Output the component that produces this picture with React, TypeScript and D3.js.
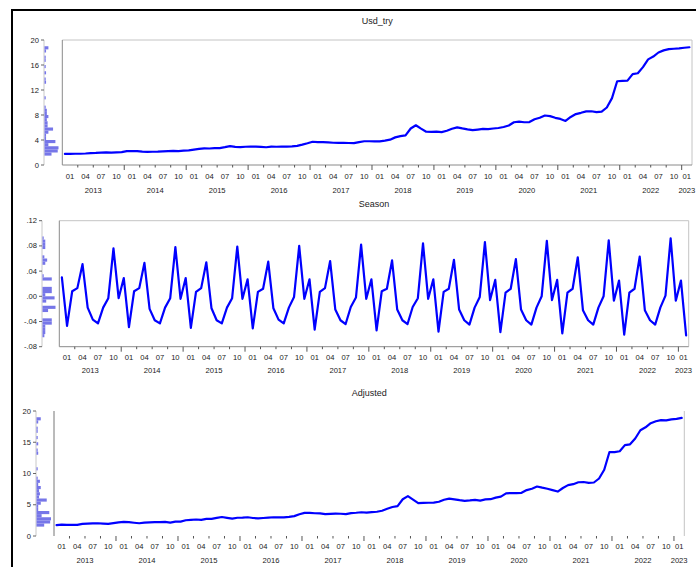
import React from 'react';
import * as d3 from 'd3';

// Monthly observations, Jan 2013 – Feb 2023
const YEARS = [2013, 2014, 2015, 2016, 2017, 2018, 2019, 2020, 2021, 2022, 2023];
const QUARTER_LABELS = ['01', '04', '07', '10'];

const USD_TRY = [
  1.77, 1.78, 1.80, 1.80, 1.84, 1.91, 1.93, 1.97, 2.02, 1.99, 2.02, 2.06,
  2.22, 2.21, 2.22, 2.13, 2.09, 2.12, 2.13, 2.17, 2.21, 2.25, 2.23, 2.30,
  2.33, 2.47, 2.59, 2.65, 2.64, 2.71, 2.70, 2.85, 3.02, 2.91, 2.86, 2.92,
  2.96, 2.95, 2.89, 2.84, 2.93, 2.92, 2.96, 2.94, 2.97, 3.06, 3.26, 3.48,
  3.72, 3.66, 3.65, 3.63, 3.56, 3.53, 3.55, 3.52, 3.49, 3.67, 3.80, 3.80,
  3.77, 3.77, 3.89, 4.05, 4.42, 4.62, 4.74, 5.84, 6.36, 5.82, 5.33, 5.30,
  5.35, 5.27, 5.49, 5.81, 6.03, 5.85, 5.69, 5.57, 5.67, 5.78, 5.75, 5.84,
  5.92, 6.08, 6.32, 6.84, 6.94, 6.84, 6.87, 7.31, 7.55, 7.92, 7.82, 7.55,
  7.37, 7.05, 7.69, 8.15, 8.35, 8.58, 8.60, 8.46, 8.54, 9.20, 10.70, 13.40,
  13.45, 13.50, 14.55, 14.68, 15.66, 16.90, 17.35, 18.00, 18.34, 18.55, 18.60, 18.66,
  18.76, 18.84,
];

const SEASON = [
  0.030, -0.047, 0.008, 0.013, 0.051, -0.018, -0.037, -0.043, -0.018, -0.003, 0.076, -0.003,
  0.029, -0.049, 0.008, 0.013, 0.053, -0.020, -0.038, -0.043, -0.018, -0.003, 0.078, -0.004,
  0.029, -0.050, 0.007, 0.013, 0.054, -0.019, -0.038, -0.043, -0.018, -0.003, 0.079, -0.004,
  0.027, -0.051, 0.007, 0.012, 0.055, -0.019, -0.037, -0.043, -0.018, -0.001, 0.080, -0.004,
  0.027, -0.053, 0.007, 0.013, 0.056, -0.021, -0.038, -0.044, -0.017, -0.002, 0.082, -0.004,
  0.027, -0.054, 0.008, 0.012, 0.057, -0.021, -0.038, -0.044, -0.017, -0.003, 0.084, -0.004,
  0.027, -0.056, 0.007, 0.012, 0.058, -0.021, -0.038, -0.045, -0.018, -0.001, 0.086, -0.006,
  0.026, -0.057, 0.006, 0.012, 0.059, -0.021, -0.038, -0.045, -0.018, 0.000, 0.088, -0.006,
  0.026, -0.059, 0.006, 0.012, 0.062, -0.022, -0.038, -0.045, -0.018, 0.000, 0.089, -0.007,
  0.025, -0.061, 0.006, 0.012, 0.063, -0.022, -0.038, -0.045, -0.018, 0.001, 0.092, -0.007,
  0.025, -0.062,
];

const ADJUSTED = [
  1.74, 1.83, 1.79, 1.79, 1.79, 1.93, 1.97, 2.01, 2.04, 1.99, 1.94, 2.06,
  2.19, 2.26, 2.21, 2.12, 2.04, 2.14, 2.17, 2.21, 2.23, 2.25, 2.15, 2.30,
  2.30, 2.52, 2.58, 2.64, 2.59, 2.73, 2.74, 2.89, 3.04, 2.91, 2.78, 2.92,
  2.93, 3.00, 2.88, 2.83, 2.88, 2.94, 3.00, 2.98, 2.99, 3.06, 3.18, 3.48,
  3.69, 3.71, 3.64, 3.62, 3.50, 3.55, 3.59, 3.56, 3.51, 3.67, 3.72, 3.80,
  3.74, 3.82, 3.88, 4.04, 4.36, 4.64, 4.78, 5.88, 6.38, 5.82, 5.25, 5.30,
  5.32, 5.33, 5.48, 5.80, 5.97, 5.87, 5.73, 5.62, 5.69, 5.78, 5.66, 5.85,
  5.89, 6.14, 6.31, 6.83, 6.88, 6.86, 6.91, 7.35, 7.57, 7.92, 7.73, 7.56,
  7.34, 7.11, 7.68, 8.14, 8.29, 8.60, 8.64, 8.51, 8.56, 9.20, 10.61, 13.41,
  13.43, 13.56, 14.54, 14.67, 15.60, 16.92, 17.39, 18.05, 18.36, 18.55, 18.51, 18.67,
  18.74, 18.90,
];

const USD_TICKS = [0, 4, 8, 12, 16, 20];
const SEASON_TICKS = [-0.08, -0.04, 0, 0.04, 0.08, 0.12];
const ADJUSTED_TICKS = [0, 5, 10, 15, 20];

const FONT = '"Liberation Sans", Arial, sans-serif';
const TEXT = '#222';
const LINE_BLUE = '#0000ff';
const HIST_FILL = '#7676e8';

type Frame = 'box' | 'sides';

interface PanelSpec {
  title: string;
  values: number[];
  yDomain: [number, number];
  ticks: number[];
  fmt: (v: number) => string;
  left: number;
  right: number;
  top: number;
  bottom: number;
  titleY: number;
  histAxisX: number;
  histLen: number;
  binWidth: number;
  monthLabelY: number;
  yearLabelY: number;
  frame: Frame;
}

const fmtInt = (v: number) => String(v);
const fmtSeason = (v: number) => {
  const s = Math.abs(v).toFixed(2).replace(/^0/, '');
  return v < -1e-9 ? '-' + s : s;
};

function Panel({ spec }: { spec: PanelSpec }) {
  const n = spec.values.length;
  const x = d3.scaleLinear().domain([-0.5, n - 0.5]).range([spec.left, spec.right]);
  const y = d3.scaleLinear().domain(spec.yDomain).range([spec.bottom, spec.top]);
  const line = d3
    .line<number>()
    .x((_, i) => x(i))
    .y((v) => y(v));

  const [d0, d1] = spec.yDomain;
  const nBins = Math.round((d1 - d0) / spec.binWidth);
  const thresholds = d3.range(0, nBins + 1).map((k) => +(d0 + k * spec.binWidth).toFixed(6));
  const bins = d3.bin().domain(spec.yDomain).thresholds(thresholds)(spec.values);
  const maxCount = d3.max(bins, (b) => b.length) || 1;
  const len = d3.scaleLinear().domain([0, maxCount]).range([0, spec.histLen]);

  const quarters = d3.range(0, n, 3);
  const xl = (i: number) => x(Math.min(i, n - 0.5));

  return (
    <g>
      <text
        x={(spec.left + spec.right) / 2}
        y={spec.titleY}
        textAnchor="middle"
        dominantBaseline="central"
        fontFamily={FONT}
        fontSize={9}
        fill={TEXT}
      >
        {spec.title}
      </text>

      {/* histogram of the series along the value axis */}
      <line x1={spec.histAxisX} x2={spec.histAxisX} y1={spec.top} y2={spec.bottom} stroke="#c8c8c8" strokeWidth={1} />
      {bins
        .filter((b) => b.length > 0)
        .map((b, i) => {
          const yTop = y(b.x1 as number);
          const h = y(b.x0 as number) - yTop;
          return (
            <rect
              key={i}
              x={spec.histAxisX + 0.5}
              y={yTop}
              width={Math.max(len(b.length), 1.2)}
              height={h}
              fill={HIST_FILL}
            />
          );
        })}
      {spec.ticks.map((t) => (
        <g key={t}>
          <line x1={spec.histAxisX - 3} x2={spec.histAxisX} y1={y(t)} y2={y(t)} stroke="#666" strokeWidth={1} />
          <text
            x={spec.histAxisX - 5}
            y={y(t)}
            textAnchor="end"
            dominantBaseline="central"
            fontFamily={FONT}
            fontSize={7.6}
            fill={TEXT}
          >
            {spec.fmt(t)}
          </text>
        </g>
      ))}

      {/* plot frame */}
      {spec.frame === 'box' ? (
        <g>
          <line x1={spec.left} x2={spec.right} y1={spec.top} y2={spec.top} stroke="#c4c4c4" strokeWidth={1} />
          <line x1={spec.right} x2={spec.right} y1={spec.top} y2={spec.bottom} stroke="#c4c4c4" strokeWidth={1} />
          <line x1={spec.left} x2={spec.left} y1={spec.top} y2={spec.bottom} stroke="#8a8a8a" strokeWidth={1} />
          <line x1={spec.left} x2={spec.right} y1={spec.bottom} y2={spec.bottom} stroke="#8a8a8a" strokeWidth={1} />
        </g>
      ) : (
        <g>
          <line x1={spec.left} x2={spec.left} y1={spec.top} y2={spec.bottom} stroke="#777" strokeWidth={1} />
          <line x1={spec.right} x2={spec.right} y1={spec.top} y2={spec.bottom} stroke="#c4c4c4" strokeWidth={1} />
        </g>
      )}

      {/* time axis: quarter ticks and labels, year labels */}
      {quarters
        .filter((q) => q > 0)
        .map((q) => (
          <line
            key={'t' + q}
            x1={x(q - 0.5)}
            x2={x(q - 0.5)}
            y1={spec.bottom}
            y2={spec.bottom + (q % 12 === 0 ? 5 : 2.5)}
            stroke="#555"
            strokeWidth={1}
          />
        ))}
      {quarters.map((q) => (
        <text
          key={'q' + q}
          x={(x(q - 0.5) + xl(q + 2.5)) / 2}
          y={spec.monthLabelY}
          textAnchor="middle"
          dominantBaseline="central"
          fontFamily={FONT}
          fontSize={7.6}
          fill={TEXT}
        >
          {QUARTER_LABELS[(q / 3) % 4]}
        </text>
      ))}
      {YEARS.map((yr, k) => (
        <text
          key={'y' + yr}
          x={(x(12 * k - 0.5) + xl(12 * k + 11.5)) / 2}
          y={spec.yearLabelY}
          textAnchor="middle"
          dominantBaseline="central"
          fontFamily={FONT}
          fontSize={7.6}
          fill={TEXT}
        >
          {yr}
        </text>
      ))}

      <path
        d={line(spec.values) || ''}
        fill="none"
        stroke={LINE_BLUE}
        strokeWidth={2.2}
        strokeLinejoin="round"
        strokeLinecap="round"
      />
    </g>
  );
}

const PANELS: PanelSpec[] = [
  {
    title: 'Usd_try',
    values: USD_TRY,
    yDomain: [0, 20],
    ticks: USD_TICKS,
    fmt: fmtInt,
    left: 62.3,
    right: 692,
    top: 40,
    bottom: 165,
    titleY: 21,
    histAxisX: 44,
    histLen: 14,
    binWidth: 0.5,
    monthLabelY: 176,
    yearLabelY: 190,
    frame: 'box',
  },
  {
    title: 'Season',
    values: SEASON,
    yDomain: [-0.08, 0.12],
    ticks: SEASON_TICKS,
    fmt: fmtSeason,
    left: 59.3,
    right: 688.7,
    top: 220.7,
    bottom: 346.7,
    titleY: 204,
    histAxisX: 42,
    histLen: 13,
    binWidth: 0.005,
    monthLabelY: 357.3,
    yearLabelY: 370.7,
    frame: 'box',
  },
  {
    title: 'Adjusted',
    values: ADJUSTED,
    yDomain: [0, 20],
    ticks: ADJUSTED_TICKS,
    fmt: fmtInt,
    left: 54,
    right: 684.3,
    top: 411,
    bottom: 536,
    titleY: 393,
    histAxisX: 36,
    histLen: 14.5,
    binWidth: 0.5,
    monthLabelY: 546,
    yearLabelY: 560,
    frame: 'sides',
  },
];

export default function App() {
  return (
    <svg
      width={696}
      height={567}
      viewBox="0 0 696 567"
      style={{ position: 'absolute', left: 0, top: 0, background: '#fff', display: 'block' }}
    >
      <rect x={0} y={0} width={696} height={567} fill="#fff" />
      {/* window border */}
      <line x1={11} x2={696} y1={10} y2={10} stroke="#000" strokeWidth={2} />
      <line x1={12} x2={12} y1={9} y2={567} stroke="#000" strokeWidth={2} />
      {PANELS.map((p) => (
        <Panel key={p.title} spec={p} />
      ))}
    </svg>
  );
}
